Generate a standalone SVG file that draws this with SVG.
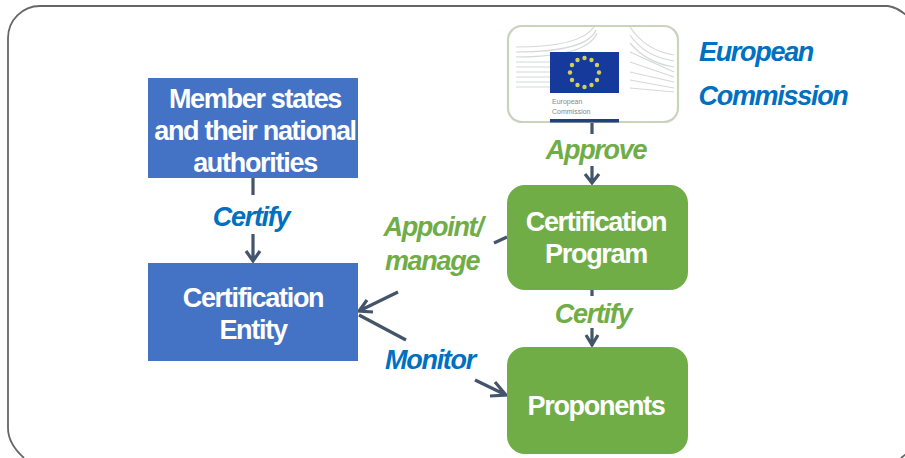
<svg xmlns="http://www.w3.org/2000/svg" width="905" height="458" viewBox="0 0 905 458">
<defs>
<style>
text{font-family:"Liberation Sans",Arial,sans-serif;font-weight:700;text-anchor:middle}
.w{fill:#fff;font-size:27px;letter-spacing:-1.3px}
.g{fill:#70ad47;font-size:27px;font-style:italic;letter-spacing:-1.3px}
.b{fill:#0070c0;font-size:27px;font-style:italic;letter-spacing:-1.3px}
.blue{fill:#4472c4}
.green{fill:#70ad47}
.c{fill:none;stroke:#44546a;stroke-width:3.2}
.bl{fill:none;stroke:#d6d8d8;stroke-width:1.2}
.star{fill:#cfd25a}
</style>
</defs>
<g id="frame" fill="none" stroke="#666" stroke-width="1.8">
<path d="M24 458C14 449 8 440 8 428V38A32 32 0 0 1 40 6H888C896 7 901 11 906 15"/>
<path d="M901 458L906 454"/>
</g>
<g id="connectors">
<path class="c" d="M592 122V134M592 166V183M585 174L592 183L599 174"/>
<path class="c" d="M253 178V195M253 234V261M246 251L253 261L260 251"/>
<path class="c" d="M507 237L494 243"/>
<path class="c" d="M398 292L359 311M373 312L359 311L367 300"/>
<path class="c" d="M406 340L359 315"/>
<path class="c" d="M475 380L506 395M495 382L506 395L490 396"/>
<path class="c" d="M592 290V296M592 328V346M586 335L592 345L598 335"/>
</g>
<g id="member-states">
<rect class="blue" x="148" y="78" width="210" height="100"/>
<text class="w" x="255" y="108">Member states</text>
<text class="w" x="255" y="140">and their national</text>
<text class="w" x="255" y="172">authorities</text>
</g>
<g id="certification-entity">
<rect class="blue" x="148" y="263" width="210" height="98"/>
<text class="w" x="253" y="307">Certification</text>
<text class="w" x="253" y="339">Entity</text>
</g>
<g id="european-commission">
<rect x="508" y="26" width="170" height="96" rx="14" fill="#fff" stroke="#c9d3bd" stroke-width="2.2"/>
<path class="bl" d="M516 47C560 47 585 40 594 27M516 52C560 52 590 45 596 30M516 57C560 57 590 50 597 33M516 62H550M516 67H550M516 72H550M516 77H550M516 82H550M516 87H550"/>
<path class="bl" d="M630 27C640 42 655 52 674 55M630 35C640 50 655 58 674 61M630 43C640 55 655 64 674 67M630 52L674 72M630 62L674 77M630 72L674 82M630 80L674 88M630 88L674 92"/>
<rect x="550" y="52" width="69" height="41" fill="#16399c"/>
<g class="star">
<circle cx="584.500" cy="58" r="2.200"/><circle cx="591.500" cy="60" r="2.200"/><circle cx="597" cy="65" r="2.200"/><circle cx="599" cy="72.500" r="2.200"/><circle cx="597" cy="80" r="2.200"/><circle cx="591.500" cy="85" r="2.200"/><circle cx="584.500" cy="87" r="2.200"/><circle cx="577.500" cy="85" r="2.200"/><circle cx="572" cy="80" r="2.200"/><circle cx="570" cy="72.500" r="2.200"/><circle cx="572" cy="65" r="2.200"/><circle cx="577.500" cy="60" r="2.200"/>
</g>
<text x="552" y="104" style="font-size:7px;font-weight:400;text-anchor:start;fill:#888">European</text>
<text x="552" y="114" style="font-size:7px;font-weight:400;text-anchor:start;fill:#888">Commission</text>
<rect x="550" y="119" width="69" height="3.500" fill="#24407a"/>
<text class="b" x="756" y="61">European</text>
<text class="b" x="773" y="105">Commission</text>
</g>
<g id="certification-program">
<rect class="green" x="507" y="185" width="181" height="105" rx="18"/>
<text class="w" x="596" y="231">Certification</text>
<text class="w" x="596" y="263">Program</text>
</g>
<g id="proponents">
<rect class="green" x="507" y="347" width="181" height="107" rx="18"/>
<text class="w" x="596" y="415">Proponents</text>
</g>
<g id="labels">
<text class="g" x="596" y="159">Approve</text>
<text class="b" x="251" y="226">Certify</text>
<text class="g" x="433" y="236">Appoint/</text>
<text class="g" x="432" y="270">manage</text>
<text class="g" x="593" y="323">Certify</text>
<text class="b" x="430" y="369">Monitor</text>
</g>
</svg>
